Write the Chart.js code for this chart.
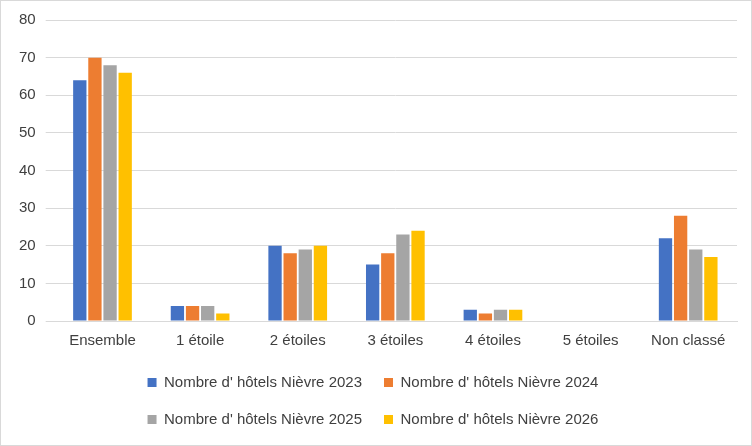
<!DOCTYPE html>
<html><head><meta charset="utf-8">
<script src="https://cdn.jsdelivr.net/npm/chart.js@4"></script>
<style>html,body{margin:0;background:#fff}#w{width:750px;height:444px;border:1px solid #d9d9d9;position:relative}</style>
</head><body><div id="w"><canvas id="c"></canvas></div>
<script>
const categories=["Ensemble","1 étoile","2 étoiles","3 étoiles","4 étoiles","5 étoiles","Non classé"];
const s2023=[64,4,20,15,3,0,22];
const s2024=[70,4,18,18,2,0,28];
const s2025=[68,4,19,23,3,0,19];
const s2026=[66,2,20,24,3,0,17];
const seriesNames=["Nombre d' hôtels Nièvre 2023","Nombre d' hôtels Nièvre 2024","Nombre d' hôtels Nièvre 2025","Nombre d' hôtels Nièvre 2026"];
const colors=["#4472C4","#ED7D31","#A5A5A5","#FFC000"];
const yTicks=[0,10,20,30,40,50,60,70,80];
Chart.defaults.font.family="'Liberation Sans', Arial, sans-serif";
Chart.defaults.color="#595959";
new Chart(document.getElementById('c'),{
type:'bar',
data:{labels:categories,datasets:[s2023,s2024,s2025,s2026].map((d,i)=>({label:seriesNames[i],data:d,backgroundColor:colors[i],categoryPercentage:0.62,barPercentage:0.88}))},
options:{responsive:true,maintainAspectRatio:false,animation:false,
layout:{padding:{left:8,right:14,top:10,bottom:8}},
scales:{
x:{grid:{display:false},border:{color:'#d9d9d9'},ticks:{font:{size:15},color:'#404040'}},
y:{min:0,max:80,afterBuildTicks:a=>{a.ticks=yTicks.map(v=>({value:v}))},grid:{color:'#d9d9d9'},border:{display:false},ticks:{font:{size:15},color:'#404040',padding:10}}
},
plugins:{legend:{position:'bottom',labels:{boxWidth:9,boxHeight:9,padding:22,font:{size:15},color:'#404040'}},tooltip:{enabled:false}}
}});
</script></body></html>
